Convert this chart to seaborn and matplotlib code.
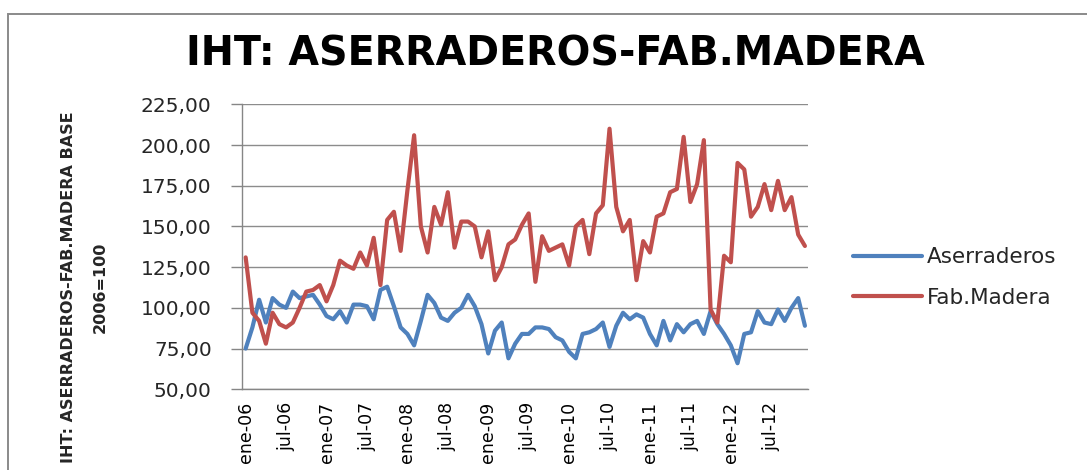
import numpy as np
import pandas as pd
import matplotlib
matplotlib.use('Agg')
import matplotlib.pyplot as plt
import seaborn as sns
from matplotlib import font_manager
from matplotlib.patches import Rectangle

# IHT mensual ene-06 .. dic-12 (base 2006=100)
aserraderos = [
    75, 88, 105, 91, 106, 102, 100, 110, 106, 107, 108, 102,
    95, 93, 98, 91, 102, 102, 101, 93, 111, 113, 101, 88,
    84, 77, 92, 108, 103, 94, 92, 97, 100, 108, 101, 90,
    72, 86, 91, 69, 78, 84, 84, 88, 88, 87, 82, 80,
    73, 69, 84, 85, 87, 91, 76, 89, 97, 93, 96, 94,
    84, 77, 92, 80, 90, 85, 90, 92, 84, 98, 90, 84,
    77, 66, 84, 85, 98, 91, 90, 99, 92, 100, 106, 89,
]
fab_madera = [
    131, 97, 92, 78, 97, 90, 88, 91, 100, 110, 111, 114,
    104, 114, 129, 126, 124, 134, 126, 143, 114, 154, 159, 135,
    172, 206, 150, 134, 162, 151, 171, 137, 153, 153, 150, 131,
    147, 117, 125, 139, 142, 151, 158, 116, 144, 135, 137, 139,
    126, 150, 154, 133, 158, 163, 210, 162, 147, 154, 117, 141,
    134, 156, 158, 171, 173, 205, 165, 176, 203, 99, 91, 132,
    128, 189, 185, 156, 162, 176, 160, 178, 160, 168, 145, 138,
]
series_names = ['Aserraderos', 'Fab.Madera']
colors = ['#4F81BD', '#C0504D']
tick_labels = ['ene-06', 'jul-06', 'ene-07', 'jul-07', 'ene-08', 'jul-08', 'ene-09',
               'jul-09', 'ene-10', 'jul-10', 'ene-11', 'jul-11', 'ene-12', 'jul-12']
y_ticks = [50, 75, 100, 125, 150, 175, 200, 225]

n = len(aserraderos)
df = pd.DataFrame({
    'mes': list(range(n)) * 2,
    'valor': aserraderos + fab_madera,
    'serie': [series_names[0]] * n + [series_names[1]] * n,
})

sns.set_style('white')
plt.rcParams['font.family'] = ['DejaVu Sans']

# titulo del eje y en letra estrecha si hay alguna instalada
fl = font_manager.fontManager.ttflist
has_cond = any(f.name == 'DejaVu Sans' and f.stretch == 'condensed' and f.weight == 'bold' for f in fl)

fig = plt.figure(figsize=(10.87, 4.70), dpi=100)
ax = fig.add_axes([0.2229, 0.1717, 0.5207, 0.6064])

sns.lineplot(data=df, x='mes', y='valor', hue='serie', palette=colors,
             linewidth=3, ax=ax, solid_joinstyle='round', solid_capstyle='round')

handles, labels = ax.get_legend_handles_labels()
ax.get_legend().remove()

ax.set_xlim(-0.5, n - 0.5)
ax.set_ylim(50, 225)
ax.set_xlabel('')
ax.set_ylabel('')

ax.set_yticks(y_ticks)
ax.set_yticklabels([f'{v:.2f}'.replace('.', ',') for v in y_ticks], fontsize=14.5, color='#262626')
ax.set_xticks(range(0, n, 6))
ax.set_xticklabels(tick_labels, rotation=90, fontsize=12.5, color='black')
ax.set_xticks(np.arange(-0.5, n, 4), minor=True)
ax.tick_params(axis='x', which='major', length=0, pad=9)
ax.tick_params(axis='x', which='minor', length=5, width=1, color='#868686', direction='out')
ax.tick_params(axis='y', length=8, width=1, color='#868686', direction='out', pad=14, left=True)

ax.yaxis.grid(True, color='#8c8c8c', linewidth=1)
ax.xaxis.grid(False)
ax.set_axisbelow(True)
for s in ['top', 'right']:
    ax.spines[s].set_visible(False)
for s in ['left', 'bottom']:
    ax.spines[s].set_color('#868686')
    ax.spines[s].set_linewidth(1)

fig.text(0.5106, 0.883, 'IHT: ASERRADEROS-FAB.MADERA', ha='center', va='center',
         fontsize=28.5, fontweight='bold', color='black')

ykw = dict(rotation=90, ha='center', va='center', fontweight='bold')
if has_cond:
    ykw.update(fontsize=12.8, fontstretch='condensed')
else:
    ykw.update(fontsize=11.5)
fig.text(0.0626, 0.389, 'IHT: ASERRADEROS-FAB.MADERA BASE', **ykw)
fig.text(0.092, 0.389, '2006=100', **ykw)

fig.legend(handles, labels, loc='center left', bbox_to_anchor=(0.7847, 0.4096),
           frameon=False, fontsize=15.5, handlelength=3.2, handletextpad=0.25,
           labelspacing=0.95, borderpad=0, borderaxespad=0)

fig.patches.append(Rectangle((8 / 1087, -0.1), 1.2, 0.1 + 1 - 14 / 470, transform=fig.transFigure,
                             fill=False, edgecolor='#8a8a8a', linewidth=1.4))

fig.savefig('out.png', dpi=100)
